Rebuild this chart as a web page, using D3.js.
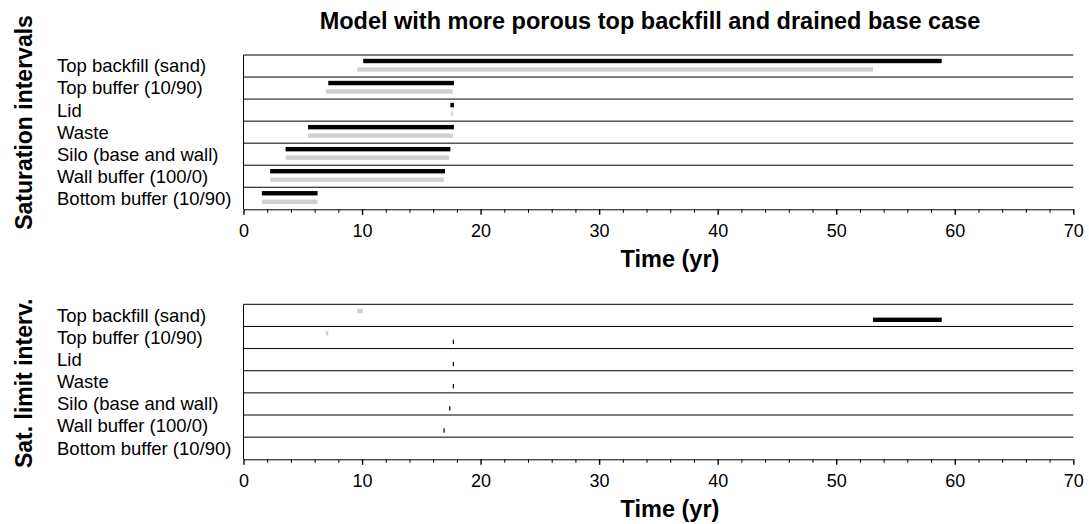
<!DOCTYPE html>
<html>
<head>
<meta charset="utf-8">
<script src="https://cdn.jsdelivr.net/npm/d3@7"></script>
<style>
  html, body { margin: 0; padding: 0; background: #fff; }
  svg { display: block; }
  text { font-family: "Liberation Sans", Arial, Helvetica, sans-serif; fill: #000; }
</style>
</head>
<body>
<svg id="chart" width="1089" height="524"></svg>
<script>
// Layers of the repository, listed from top to bottom
const categories = [
  "Top backfill (sand)",
  "Top buffer (10/90)",
  "Lid",
  "Waste",
  "Silo (base and wall)",
  "Wall buffer (100/0)",
  "Bottom buffer (10/90)"
];

// Saturation intervals [start, end] in years, two model cases
const satBlack = [[10.1, 58.9], [7.15, 17.75], [17.45, 17.75], [5.45, 17.75], [3.55, 17.45], [2.25, 17.0], [1.55, 6.25]];
const satGray  = [[9.6, 53.1], [6.95, 17.65], [17.5, 17.65], [5.45, 17.65], [3.55, 17.35], [2.25, 16.9], [1.55, 6.25]];

// Saturation limit intervals [start, end] in years (null = none)
const limGray  = [[9.6, 10.05], [6.95, 7.15], null, null, null, null, null];
const limBlack = [[53.1, 58.9], [17.65, 17.75], [17.65, 17.75], [17.65, 17.75], [17.35, 17.45], [16.87, 16.97], null];

const xTicks = d3.range(0, 71, 2);
const chartTitle = "Model with more porous top backfill and drained base case";
const xTitle = "Time (yr)";

const svg = d3.select("#chart");
const x = d3.scaleLinear().domain([0, 70]).range([243.5, 1073.3]);

svg.append("text")
  .attr("x", 650).attr("y", 29.3)
  .attr("text-anchor", "middle")
  .style("font-size", "23.5px").style("font-weight", "bold")
  .text(chartTitle);

function panel(top, bottom, yTitle, yTitleCenter, series) {
  const g = svg.append("g");
  const y = d3.scaleBand().domain(categories).range([top, bottom]);
  const bw = y.bandwidth();

  // row separators and top frame line
  g.selectAll("line.sep").data(categories).join("line")
    .attr("class", "sep")
    .attr("x1", x.range()[0]).attr("x2", x.range()[1])
    .attr("y1", d => y(d)).attr("y2", d => y(d))
    .attr("stroke", "#000").attr("stroke-width", 1);

  // left frame line
  g.append("line")
    .attr("x1", x.range()[0]).attr("x2", x.range()[0])
    .attr("y1", top).attr("y2", bottom)
    .attr("stroke", "#000");

  // category labels
  g.selectAll("text.cat").data(categories).join("text")
    .attr("class", "cat")
    .attr("x", 57)
    .attr("y", d => y(d) + bw / 2 + 6.4)
    .style("font-size", "18.5px")
    .text(d => d);

  // interval bars
  series.forEach(s => {
    g.selectAll(null).data(s.values.map((v, i) => ({ v, c: categories[i] })).filter(d => d.v))
      .join("rect")
      .attr("x", d => x(d.v[0]))
      .attr("width", d => Math.max(1, x(d.v[1]) - x(d.v[0])))
      .attr("y", d => y(d.c) + s.offset - 2.2)
      .attr("height", 4.4)
      .attr("fill", s.color);
  });

  // time axis
  const axis = d3.axisBottom(x).tickValues(xTicks)
    .tickFormat(d => d % 10 === 0 ? d : "")
    .tickSizeOuter(0);
  const ax = g.append("g").attr("transform", `translate(0,${bottom})`).call(axis);
  ax.select(".domain").attr("stroke", "#000");
  ax.selectAll(".tick line")
    .attr("y2", d => d % 10 === 0 ? 5.5 : 3.5)
    .attr("stroke-width", d => d % 10 === 0 ? 1.4 : 1);
  ax.selectAll(".tick text")
    .attr("y", 28).attr("dy", null)
    .style("font-size", "18px")
    .style("font-family", "'Liberation Sans', Arial, sans-serif")
    .attr("fill", "#000");

  g.append("text")
    .attr("x", 670).attr("y", bottom + 57.4)
    .attr("text-anchor", "middle")
    .style("font-size", "23.5px").style("font-weight", "bold")
    .text(xTitle);

  g.append("text")
    .attr("transform", `translate(32,${yTitleCenter}) rotate(-90)`)
    .attr("text-anchor", "middle")
    .style("font-size", "23px").style("font-weight", "bold")
    .text(yTitle);
}

panel(55, 209.3, "Saturation intervals", 122.5, [
  { values: satBlack, color: "#000", offset: 6 },
  { values: satGray, color: "#d0d0d0", offset: 14.5 }
]);

panel(304.3, 459.3, "Sat. limit interv.", 383.3, [
  { values: limGray, color: "#d0d0d0", offset: 6.8 },
  { values: limBlack, color: "#000", offset: 15.5 }
]);
</script>
</body>
</html>
